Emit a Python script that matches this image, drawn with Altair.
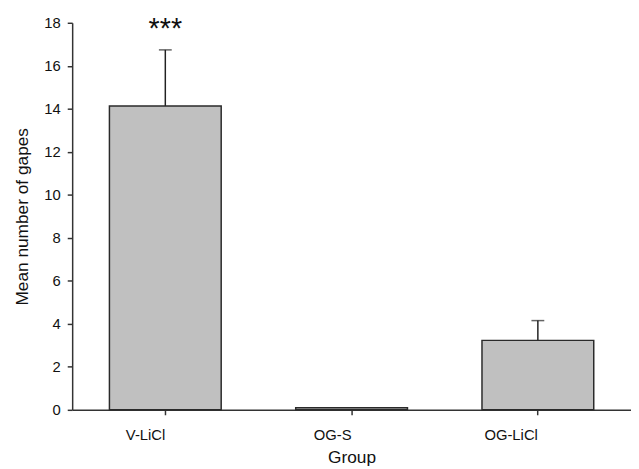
import altair as alt
import pandas as pd

groups = ["V-LiCl", "OG-S", "OG-LiCl"]
means = [14.13, 0.1, 3.23]
upper = [16.74, 0.1, 4.15]
stars = ["***", "", ""]

df = pd.DataFrame({"group": groups, "mean": means, "upper": upper, "stars": stars})

FONT = "Liberation Sans"
x = alt.X("group:N", sort=groups, title="Group",
          scale=alt.Scale(paddingInner=0.4, paddingOuter=0.2),
          axis=alt.Axis(labelAngle=0, tickSize=5, labelFontSize=15, titleFontSize=17.5,
                        labelPadding=20, titlePadding=6, domainColor="#333", tickColor="#333",
                        labelColor="#111", titleColor="#111", labelFont=FONT,
                        titleFont=FONT, titleFontWeight="normal", domainWidth=1.5,
                        tickWidth=1.5))
y = alt.Y("mean:Q", title="Mean number of gapes",
          scale=alt.Scale(domain=[0, 18], nice=False),
          axis=alt.Axis(values=list(range(0, 19, 2)), tickSize=5, labelFontSize=15,
                        titleFontSize=17.5, labelPadding=7, titlePadding=13, grid=False,
                        domainColor="#333", tickColor="#333", labelColor="#111",
                        titleColor="#111", labelFont=FONT,
                        titleFont=FONT, titleFontWeight="normal",
                        domainWidth=1.5, tickWidth=1.5))

base = alt.Chart(df)
err = base.mark_rule(color="#222", strokeWidth=1.5).encode(
    x=alt.X("group:N", sort=groups), y="mean:Q", y2="upper:Q")
cap = base.transform_filter("datum.upper > datum.mean").mark_tick(
    color="#222", thickness=1.5, size=13, orient="horizontal").encode(
    x=alt.X("group:N", sort=groups), y="upper:Q")
bars = base.mark_bar(color="#c0c0c0", stroke="#2a2a2a", strokeWidth=1.5).encode(x=x, y=y)
txt = base.mark_text(fontSize=29, font=FONT, baseline="alphabetic", color="#111").encode(
    x=alt.X("group:N", sort=groups), y=alt.value(15), text="stars:N")

chart = alt.layer(err, cap, bars, txt).properties(
    width=566, height=392,
    autosize=alt.AutoSizeParams(type="none"),
    padding={"left": 65, "top": 12, "right": 0, "bottom": 61},
).configure_view(stroke=None).configure_axis(grid=False)

chart.save("out.html", embed_options={"renderer": "svg", "actions": False})
